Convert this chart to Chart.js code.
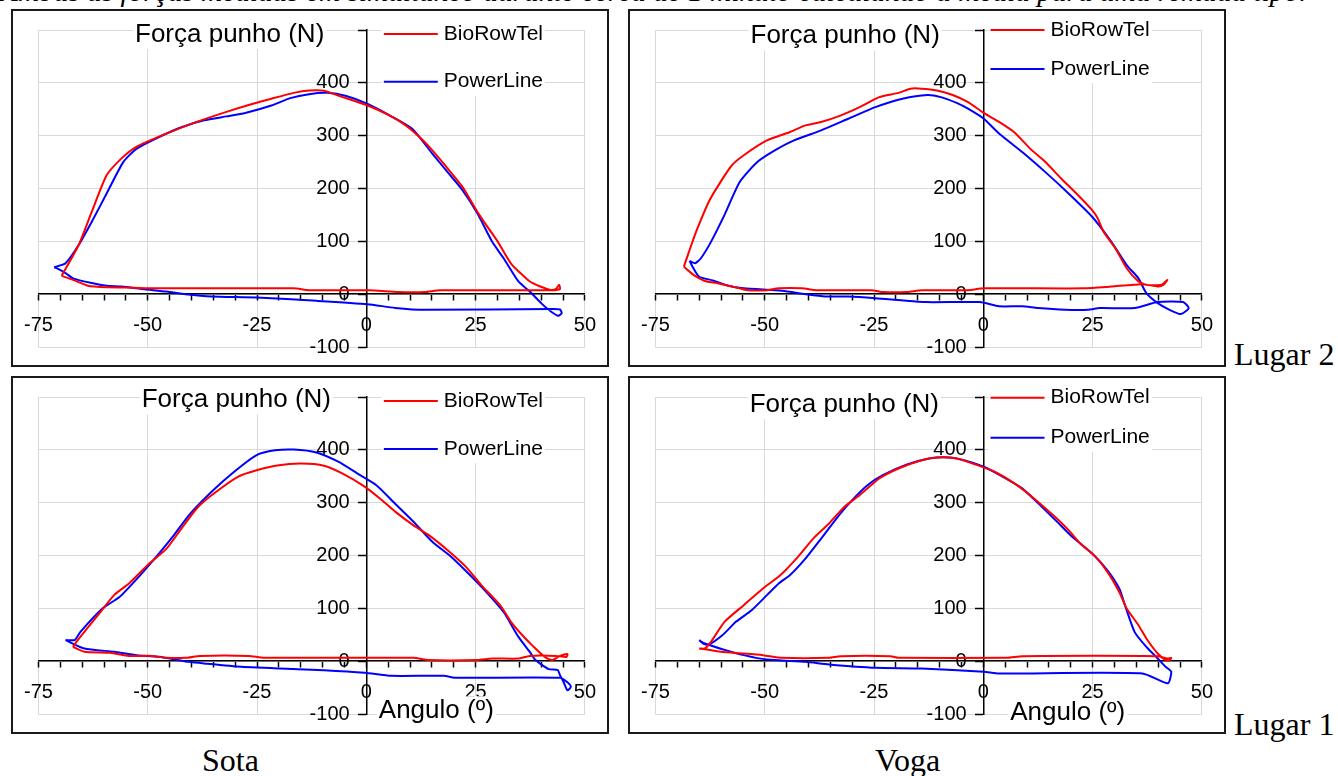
<!DOCTYPE html>
<html>
<head>
<meta charset="utf-8">
<script src="https://cdn.jsdelivr.net/npm/chart.js@4.4.1/dist/chart.umd.min.js"></script>
<style>
html,body{margin:0;padding:0;background:#fff;}
body{width:1338px;height:776px;position:relative;overflow:hidden;}
.panel{position:absolute;width:598px;height:358px;box-sizing:border-box;border:2px solid #1a1a1a;}
.panel canvas{position:absolute;left:-2px;top:-2px;}
.serif{position:absolute;font-family:"Liberation Serif","Times New Roman",serif;font-size:32px;line-height:30px;white-space:nowrap;color:#000;}
.caption{font-size:29.3px;font-style:italic;}
</style>
</head>
<body>

<div class="serif caption" style="left:0;top:-24px">Ambas as forças medidas em simultâneo durante cerca de 1 minuto calculando a média para uma remada tipo.</div>

<div class="panel" style="left:11px;top:9px"><canvas id="sotaL2" width="598" height="358"></canvas></div>
<div class="panel" style="left:628px;top:9px"><canvas id="vogaL2" width="598" height="358"></canvas></div>
<div class="panel" style="left:11px;top:376px"><canvas id="sotaL1" width="598" height="358"></canvas></div>
<div class="panel" style="left:628px;top:376px"><canvas id="vogaL1" width="598" height="358"></canvas></div>

<div class="serif" style="left:1234px;top:339px">Lugar 2</div>
<div class="serif" style="left:1234px;top:709px">Lugar 1</div>
<div class="serif" style="left:202px;top:745px">Sota</div>
<div class="serif" style="left:875px;top:745px">Voga</div>

<script>
// ===== DATA =====
const seriesNames = ["BioRowTel", "PowerLine"]
const yTitle = "Força punho (N)"
const xTitle = "Angulo (º)"

const xTicks = [-75,-70,-65,-60,-55,-50,-45,-40,-35,-30,-25,-20,-15,-10,-5,0,5,10,15,20,25,30,35,40,45,50]
const xLabels = [-75,-50,-25,0,25,50]
const yTicks = [-100,0,100,200,300,400,500]
const yLabels = [-100,0,100,200,300,400]

// Sota, Lugar 2
const sotaL2BioX = [-69.7,-65.8,-62.8,-59.4,-56,-52.6,-45.7,-38.8,-32,-26.9,-21.7,-16.6,-13.1,-9.7,-5.4,0.3,5.4,9.1,12.6,15.1,18.6,22,25.4,28,30.1,33.1,37.4,40,42.1,43.4,44.1,44.3,42.5,16.8,13.4,7.4,0.6,-13.1,-16.6,-50,-55.1,-59.4,-63.7,-67.1,-69.7]
const sotaL2BioY = [34.6,93,156,225,257,279,304,326,345,358,370,381,385.5,385,373,357,338,319,294,272,238,203,156,124,99,58,24,14,8,10,18,10,7.5,7.5,4,4,7.5,7.5,11,11,12.6,13,16,27,34.6]
const sotaL2PowX = [-71.4,-68.8,-65.8,-62.8,-59.4,-55.6,-52.6,-47.4,-42.3,-37.1,-32,-27.7,-21.7,-17.4,-13.1,-8.9,-4.6,0.3,5.4,10.5,15.1,18.6,22,25.4,28.8,31.4,34.8,37.4,40,41.7,43.8,44.7,44.3,42.7,13.4,6.6,0.3,-11.4,-25.1,-35.4,-41.4,-45.7,-50.8,-56,-59.4,-62.8,-67.1,-68.8,-70.5,-71.4]
const sotaL2PowY = [51,58.5,93,137,190.6,250,275,297.5,316,329,336.5,343,357,371,378.6,381,375,360,338,313,266,231,197,153,99,68,24,5,-17,-29.6,-41,-36,-29,-28,-29.6,-26,-19,-12.6,-6.3,-4.4,0,5,9.4,14.5,16,21,30,40,48,51]

// Voga, Lugar 2
const vogaL2BioX = [-68.5,-66.8,-65.4,-62.8,-60.1,-57.5,-54.8,-49.5,-44.2,-40.7,-37.1,-32.7,-28.3,-23.8,-19.4,-16.7,-14.1,-10.6,-7,-3.5,0.1,3.6,7.2,10.7,14.2,17.8,21.3,24.9,26.2,27.5,30.2,32.8,35.5,37.3,40.8,42.1,41.2,39.9,36.4,29.3,23.1,0.1,-3.5,-14.1,-17.6,-22.9,-25.6,-38,-41.5,-46.8,-49.5,-53.9,-57.5,-61,-63.7,-66.3,-68.5]
const vogaL2BioY = [52,93,124.5,175,212.6,244,263,291,307,319.5,326,338,354,373,381,389,389,385.5,377,363.5,343,326,305.7,275.5,250,219,190.6,159,143,118,87,49,24,17.6,18,27,17.6,14.5,19,14.5,11,11,7.5,7.5,4,4,7.5,7.5,11,11,7.5,7.5,14.5,21,25,36.5,52]
const vogaL2PowX = [-67.2,-65.9,-64.6,-62.3,-59.2,-55.7,-51.7,-47.7,-43.3,-37.1,-30.9,-24.7,-18.5,-12.8,-9.7,-6.1,-3.5,0.1,3.6,8.9,14.2,19.5,24.9,29.3,32.8,35.5,37.3,39.9,42.6,45.2,47,45.7,39.9,34.6,26.6,24,18.7,12.5,8.9,3.6,-0.8,-13.2,-24.7,-30.9,-36.2,-40.7,-46,-54.8,-58.4,-61.9,-65,-66.3,-67.2]
const vogaL2PowY = [63,58.5,68,99,150,212.6,250,272,291,310,332,354,370,377,373,362,351,332,304,269,231,190.6,146.5,99,55,30,2,-17,-29.6,-37.7,-26.4,-15,-15,-26.4,-26.4,-29.6,-29.6,-26.4,-23,-23,-15,-15,-7.5,-4.4,-4.4,0,6.3,11,16,26,33,49,63]

// Sota, Lugar 1
const sotaL1BioX = [-67.1,-66.3,-64.5,-61.1,-57.7,-54.3,-50,-45.7,-42.3,-38.8,-35.4,-29.4,-25.1,-20,-14.9,-9.7,-5.4,-0.3,3.1,6.6,10.8,14.3,18.6,22.8,26.3,30.6,33.1,35.7,38.3,40.8,42.5,44.3,46,45.8,43.4,37.4,34.8,28.8,25.4,14.3,10.8,-23.4,-26.9,-38,-41.4,-45.7,-49.1,-54.3,-58.6,-64.5,-67.1]
const sotaL1BioY = [27,36.6,55.5,90,125,147,182,213,251,289,314,349,361.5,371,374,370,355,330,308,283,257,238.5,210,178.5,144,106,74.5,49,27,8,2,10,13.5,8,10,10,5,5,2,2,6.3,6.3,10,10,6.3,6.3,10,10,15.8,17.7,27]
const sotaL1PowX = [-68.8,-66.7,-65.4,-60.3,-56.4,-51.7,-47.4,-44,-40.6,-35.4,-30.3,-25.1,-20.9,-16.6,-11.4,-6.3,-2,2.3,6.6,10.8,15.1,19.4,23.7,27.1,31.4,34.8,37.4,38.7,41.7,43.8,44.3,45.1,46,46.8,46,44.3,20.3,17.7,5.7,-0.3,-9.7,-16.6,-28.6,-37.1,-40.6,-47.4,-52.5,-57.7,-64.5,-68,-68.8]
const sotaL1PowY = [40,40,55.5,100,122,163,204,238.5,276,320.5,358,390,399,400.6,395,377,355,333,298,264,226,197.5,163,134,93,46,17.7,2,-15,-17,-26.5,-39,-55,-48.6,-40,-31.5,-31.5,-27.8,-27.8,-22,-17,-15,-10.7,-4.4,-1.3,8.2,11.4,17.7,24,36.6,40]

// Voga, Lugar 1
const vogaL1BioX = [-65,-63.7,-62.3,-59.2,-54.8,-50.4,-46.4,-42.4,-38.9,-35.3,-31.8,-28.3,-23.8,-19.4,-14.1,-10.6,-6.1,-1.7,2.7,7.2,11.6,16,19.5,22.2,25.7,28.4,31.1,32.8,35.5,37.3,39.9,41.7,42.6,43,42.1,39.9,8.9,5.4,-19.4,-21.2,-32.7,-35.3,-46,-50.4,-54.8,-60.1,-63.7,-65]
const vogaL1BioY = [24,24,36.6,74.4,106,137.5,163,197.5,232,260.5,292,314,345.7,364.7,380.4,385.5,383.6,372,358,336,308,276,248,222.7,197.5,169,131,99.7,68,43,14.5,2,2,6.3,5,9.5,9.5,6.3,6.3,9.5,9.5,6.3,6.3,11.4,14.5,17.7,22.7,24]
const vogaL1PowX = [-65,-64.1,-62.8,-59.7,-56.6,-53,-49.5,-46.8,-44.2,-40.7,-37.1,-33.6,-30,-26.5,-23,-17.6,-12.3,-7.9,-4.4,0.1,4.5,8.9,13.4,16.9,20.4,24.9,28.4,31.1,32.4,34.6,37.3,39.9,41.7,43,42.2,36.4,3.6,0.1,-14.1,-24.7,-35.3,-40.7,-49.5,-54.8,-59.7,-63.7,-65]
const vogaL1PowY = [39.7,33.4,31.5,49,74.4,96.5,125,147,163,194,232,270,304.7,333,352,372,383.6,385.5,380.4,368,349,327,292,263.7,235,203.8,172,137.5,106,55.5,27,5,-10.7,-20,-42,-23.3,-23.3,-20,-14,-12.6,-6.3,-1.3,3,11.4,22.7,33.4,39.7]


// ===== HELPERS =====
const fam = '"Liberation Sans", Arial, sans-serif'
Chart.defaults.font.family = fam
Chart.defaults.color = "#000"

function pts(xs, ys){
return xs.map((x,i) => ({x:x, y:ys[i]}))
}

// axis title + legend drawn in the Excel way, with a white box behind
const decor = {
id:"decor",
afterDraw(chart, args, o){

const ctx = chart.ctx
const area = chart.chartArea
const x0 = chart.scales.x.getPixelForValue(0)

ctx.save()

// y title
ctx.font = "26px " + fam
ctx.textBaseline = "alphabetic"
const w = ctx.measureText(yTitle).width
const tx = x0 + o.titleDx - w
const ty = area.top + o.titleDy
ctx.fillStyle = "#fff"
ctx.fillRect(tx-2, area.top-2, w+4, ty+7-(area.top-2))
ctx.fillStyle = "#000"
ctx.fillText(yTitle, tx, ty)

// legend
ctx.font = "21px " + fam
const ds = chart.data.datasets
const lx = x0 + o.legendDx
const lw = 54
const tw = Math.max(...ds.map(d => ctx.measureText(d.label).width))
const ly0 = area.top + o.legendDy
ctx.fillStyle = "#fff"
ctx.fillRect(lx-2, ly0-14, lw+6+tw+4, o.legendGap*(ds.length-1)+28)
ds.forEach((d,i) => {
const ly = ly0 + i*o.legendGap
ctx.strokeStyle = d.borderColor
ctx.lineWidth = 2
ctx.beginPath()
ctx.moveTo(lx, ly)
ctx.lineTo(lx+lw, ly)
ctx.stroke()
ctx.fillStyle = "#000"
ctx.textBaseline = "middle"
ctx.fillText(d.label, lx+lw+6, ly)
})

// x title (bottom row only)
if(o.xTitle){
ctx.font = "26px " + fam
ctx.textBaseline = "alphabetic"
const xw = ctx.measureText(xTitle).width
const xx = x0 + o.xTitleDx
const xy = area.bottom + o.xTitleDy
ctx.fillStyle = "#fff"
ctx.fillRect(xx-2, xy-22, xw+4, 30)
ctx.fillStyle = "#000"
ctx.fillText(xTitle, xx, xy)
}

ctx.restore()
}
}


// ===== CHART =====
function makeChart(id, bioX, bioY, powX, powY, deco){

return new Chart(document.getElementById(id),{
type:"scatter",
data:{
datasets:[{
label:seriesNames[0],
data:pts(bioX, bioY),
borderColor:"#ff0000",
backgroundColor:"#ff0000",
showLine:true,
pointRadius:0,
borderWidth:2,
tension:0.2
},{
label:seriesNames[1],
data:pts(powX, powY),
borderColor:"#0000ff",
backgroundColor:"#0000ff",
showLine:true,
pointRadius:0,
borderWidth:2,
tension:0.2
}]
},
options:{
responsive:false,
animation:false,
events:[],
layout:{padding:{left:21,right:19,top:21,bottom:20}},
plugins:{
legend:{display:false},
tooltip:{enabled:false},
decor:deco
},
scales:{
x:{
type:"linear",
position:{y:0},
min:-75,
max:50,
afterBuildTicks: s => { s.ticks = xTicks.map(v => ({value:v})) },
ticks:{
autoSkip:false,
maxRotation:0,
padding:13,
font:{size:20},
callback: v => xLabels.includes(v) ? String(v) : ""
},
grid:{
color: c => (c.tick && xLabels.includes(c.tick.value)) ? "#d9d9d9" : "rgba(0,0,0,0)",
tickColor:"#000",
tickLength:6,
tickWidth:1.5
},
border:{color:"#000", width:1.5}
},
y:{
type:"linear",
position:{x:0},
min:-100,
max:500,
afterBuildTicks: s => { s.ticks = yTicks.map(v => ({value:v})) },
ticks:{
font:{size:20},
callback: v => yLabels.includes(v) ? v + "   " : ""
},
grid:{
color:"#d9d9d9",
tickColor:"#000",
tickLength:8,
tickWidth:1.5
},
border:{color:"#000", width:1.5}
}
}
},
plugins:[decor]
})

}


// ===== INITIALIZE =====
makeChart("sotaL2", sotaL2BioX, sotaL2BioY, sotaL2PowX, sotaL2PowY,
{titleDx:-42, titleDy:12, legendDx:17.5, legendDy:4, legendGap:47.7})

makeChart("vogaL2", vogaL2BioX, vogaL2BioY, vogaL2PowX, vogaL2PowY,
{titleDx:-43.5, titleDy:13.3, legendDx:7.2, legendDy:0, legendGap:39})

makeChart("sotaL1", sotaL1BioX, sotaL1BioY, sotaL1PowX, sotaL1PowY,
{titleDx:-35.3, titleDy:10.3, legendDx:17.5, legendDy:4, legendGap:48, xTitle:true, xTitleDx:12.5, xTitleDy:4.3})

makeChart("vogaL1", vogaL1BioX, vogaL1BioY, vogaL1PowX, vogaL1PowY,
{titleDx:-44.3, titleDy:15.3, legendDx:7.2, legendDy:0.7, legendGap:40, xTitle:true, xTitleDx:26.9, xTitleDy:6})
</script>
</body>
</html>
